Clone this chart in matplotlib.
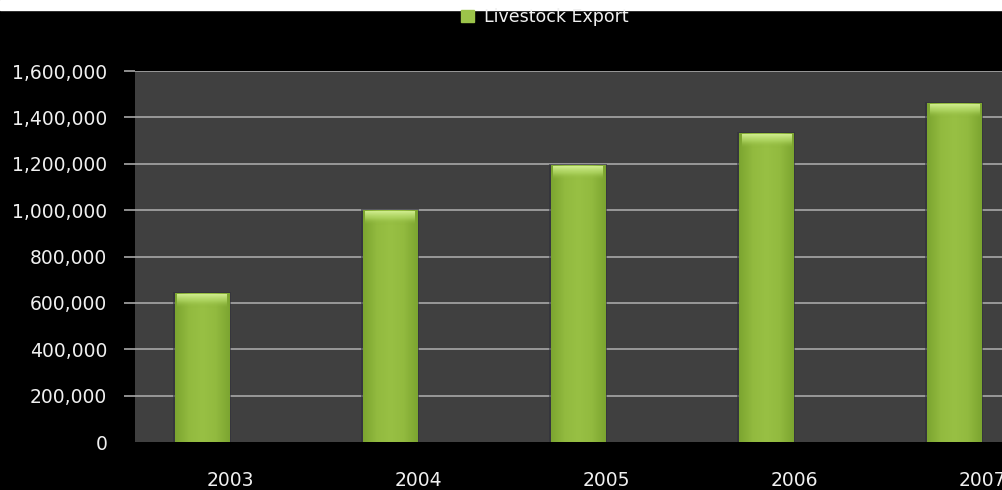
import numpy as np
import matplotlib.pyplot as plt
from matplotlib.patches import Rectangle
from matplotlib.colors import LinearSegmentedColormap
from matplotlib.ticker import FuncFormatter

# data
years = ['2003', '2004', '2005', '2006', '2007']
exports = [640000, 998000, 1192000, 1330000, 1460000]
yticks = [0, 200000, 400000, 600000, 800000, 1000000, 1200000, 1400000, 1600000]

plt.rcParams['font.family'] = ['DejaVu Sans']

fig = plt.figure(figsize=(10.03, 4.9), dpi=100, facecolor='black')
ax = fig.add_axes([135 / 1003, 1 - 442 / 490, (1003 - 135) / 1003, (442 - 71) / 490])
ax.set_facecolor('#404040')

x = np.arange(len(years))
bars = ax.bar(x, exports, width=0.29, color='#8cb43a', zorder=3, label='Livestock Export')

# soft horizontal gradient + bevelled top on each bar
grad = LinearSegmentedColormap.from_list('g', ['#7ca530', '#92ba3f', '#98c044', '#92ba3f', '#7ca530'])
cap_grad = LinearSegmentedColormap.from_list('c', [(0.55, 0.71, 0.23, 0.0), (0.70, 0.85, 0.40, 0.7),
                                                   (0.82, 0.93, 0.56, 1.0)])
cap = 14000
for b in bars:
    x0, w, h = b.get_x(), b.get_width(), b.get_height()
    img = np.linspace(0, 1, 64).reshape(1, -1)
    ax.imshow(img, cmap=grad, extent=(x0, x0 + w, 0, h), aspect='auto', zorder=3.1)
    vimg = np.linspace(1, 0, 32).reshape(-1, 1)
    ax.imshow(vimg, cmap=cap_grad, extent=(x0 + w * 0.05, x0 + w * 0.95, h - 4.5 * cap, h - 0.3 * cap),
              aspect='auto', zorder=3.2)
    # soft shadow around the bar
    ax.add_patch(Rectangle((x0 - 0.01, 0), w + 0.02, h + 0.6 * cap, color='#30303c', alpha=0.6, zorder=2.9, lw=0))

ax.set_xlim(-0.356, 4.26)
ax.set_ylim(0, 1600000)
ax.set_yticks(yticks)
ax.yaxis.set_major_formatter(FuncFormatter(lambda v, p: f'{int(v):,}'))
ax.grid(axis='y', color='#a8a8a8', lw=1.2, zorder=1)
ax.set_axisbelow(True)
ax.yaxis.get_major_ticks()[0].tick1line.set_visible(False)
ax.yaxis.get_major_ticks()[0].gridline.set_visible(False)

# category labels sit a little right of the bars in the reference
ax.set_xticks(x + 0.149)
ax.set_xticklabels(years)

ax.tick_params(axis='y', colors='#a8a8a8', length=8, width=1.2, labelcolor='#f0f0f0', labelsize=13.5, pad=12)
ax.tick_params(axis='x', length=0, labelcolor='#f0f0f0', labelsize=13.5, pad=21)
for s in ax.spines.values():
    s.set_visible(False)

# white strip along the top edge
fig.patches.append(Rectangle((0, 1 - 10 / 490), 1, 10 / 490, transform=fig.transFigure, color='white', zorder=0))

leg = fig.legend(handles=[bars], labels=['Livestock Export'], loc='center',
                 bbox_to_anchor=(545 / 1003, 1 - 17 / 490), frameon=False,
                 fontsize=12.5, labelcolor='#f0f0f0', handlelength=0.75, handleheight=0.75,
                 handletextpad=0.6)
leg.legend_handles[0].set_color('#9cc44a')

fig.savefig('out.png', dpi=100, facecolor='black')
